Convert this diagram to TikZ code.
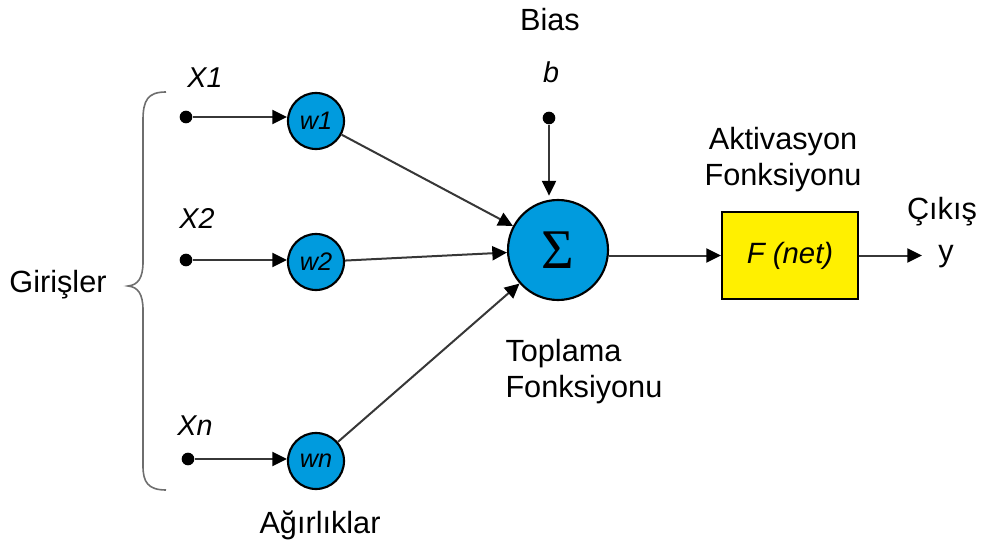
\documentclass[tikz,border=0pt]{standalone}
\usepackage{fontspec}
\setmainfont{Liberation Sans}
\newfontfamily\sigmafont{Liberation Serif}
\usetikzlibrary{arrows.meta}

\definecolor{nodeblue}{RGB}{0,155,222}
\definecolor{boxyellow}{RGB}{255,240,0}
\definecolor{linegray}{RGB}{55,55,55}
\definecolor{bracegray}{RGB}{110,110,110}

\tikzset{every picture/.style={line width=0.75pt},
  lbl/.style={inner sep=0.75pt,font=\fontsize{23}{27}\selectfont},
  inlbl/.style={inner sep=0.75pt,font=\fontsize{21.5}{25}\selectfont\itshape},
  dot/.style={circle,fill=black,inner sep=0pt,minimum size=9.5pt},
  wnode/.style={circle,draw=black,line width=1.6pt,fill=nodeblue,inner sep=0pt,minimum size=42pt,font=\fontsize{19}{22}\selectfont\itshape},
  conn/.style={draw=linegray,line width=1.5pt,-{Triangle[length=11pt,width=10.5pt,color=black]}},
}

\begin{document}
\begin{tikzpicture}[x=0.75pt,y=0.75pt,yscale=-1,xscale=1]
\path (0,0) rectangle (982,549); %set diagram size

%Shape: Input dots
\node [dot] (x1) at (186,117) {};
\node [dot] (x2) at (186,260) {};
\node [dot] (xn) at (188,459) {};
%Shape: Weights
\node [wnode] (w1) at (316,121) {w1};
\node [wnode] (w2) at (316,262) {w2};
\node [wnode] (wn) at (316,461) {wn};
%Shape: Summation
\node [circle,draw=black,line width=1.6pt,fill=nodeblue,minimum size=75pt,inner sep=0pt,font=\fontsize{42}{42}\selectfont\sigmafont] (sig) at (558,250) {Σ};
%Shape: Bias dot
\node [dot] (b) at (549,118) {};
%Shape: Activation box
\node [draw=black,line width=1.6pt,fill=boxyellow,minimum width=102pt,minimum height=65pt,inner sep=0pt,font=\fontsize{22}{26}\selectfont\itshape] (f) at (790,255.5) {F (net)};
\coordinate (out) at (922,255.5);

%Straight Lines
\draw [conn] (x1) -- (w1.west |- x1);
\draw [conn] (x2) -- (w2.west |- x2);
\draw [conn] (xn) -- (wn.west |- xn);
\draw [conn] (w1) -- (sig);
\draw [conn] (w2) -- (sig);
\draw [conn] (wn) -- (sig);
\draw [conn] (b) -- ([yshift=-2.5pt]b |- sig.north);
\draw [conn] (sig.east |- f.west) -- (f.west);
\draw [conn] (f) -- (out);

%Shape: Brace
\draw [draw=bracegray,line width=1.2pt] (166,92) .. controls (148,92) and (143,100) .. (143,120) -- (143,262) .. controls (143,278) and (138,285) .. (128,286) .. controls (138,287) and (143,294) .. (143,310) -- (143,466) .. controls (143,482) and (148,490) .. (166,490);

% Text Node
\node [inlbl] (lx1) at (205,78) {X1};
\node [inlbl] (lx2) at (197,218) {X2};
\node [inlbl] (lxn) at (195,426) {Xn};
\node [lbl] (gir) at (58,285) {Girişler};
\node [lbl] (agr) at (320,525) {Ağırlıklar};
\node [lbl] (bias) at (550,20) {Bias};
\node [inlbl] (lb) at (551,72) {b};
\node [lbl,align=left,anchor=north west] (topl) at (504,338) {Toplama\\Fonksiyonu};
\node [lbl,align=center] (akt) at (783,160) {Aktivasyon\\Fonksiyonu};
\node [lbl] (cik) at (942,212) {Çıkış};
\node [lbl] (y) at (946,257) {y};

\end{tikzpicture}
\end{document}
